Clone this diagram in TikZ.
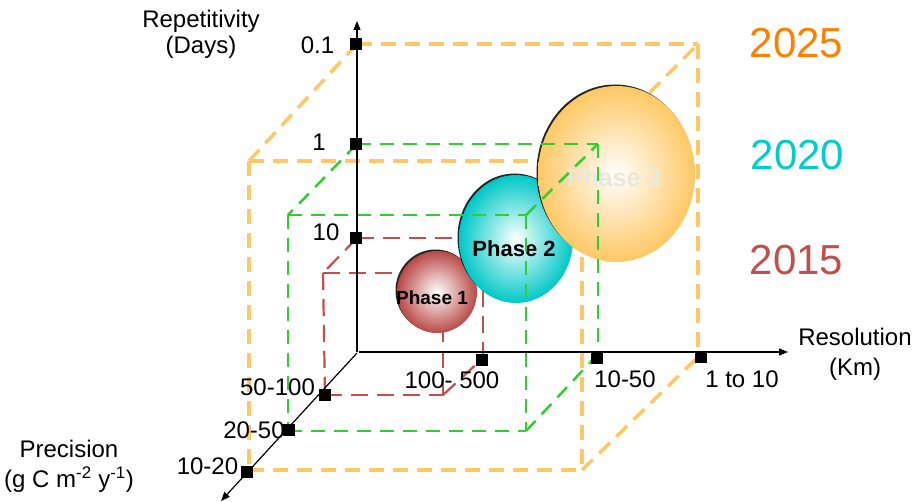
\documentclass[tikz,border=0pt]{standalone}
\usepackage{fontspec}
\setmainfont{Liberation Sans}
\usetikzlibrary{arrows.meta,shapes.geometric,shadows}
\definecolor{yorange}{RGB}{255,128,0}
\definecolor{ycyan}{RGB}{0,204,204}
\definecolor{yred}{RGB}{192,80,77}
\definecolor{lorange}{RGB}{255,200,100}
\definecolor{lgreen}{RGB}{51,204,51}
\definecolor{sphA}{RGB}{185,72,70}
\definecolor{sphB}{RGB}{0,200,200}
\definecolor{sphC}{RGB}{255,200,100}
\definecolor{ptxt}{RGB}{232,232,222}
\begin{document}
\begin{tikzpicture}[x=1pt,y=-1pt,
  axis/.style={line width=1.2pt,-{Triangle[length=9pt,width=7pt]}},
  tickbox/.style={fill=black,draw=none,minimum size=12pt,inner sep=0pt},
  lbl/.style={inner sep=0pt,font=\fontsize{24}{28}\selectfont},
  yearlbl/.style={inner sep=0pt,font=\fontsize{42}{48}\selectfont},
  ocube/.style={lorange,line width=3.5pt,dash pattern=on 15pt off 9pt},
  gcube/.style={lgreen,line width=2.5pt,dash pattern=on 14pt off 9pt},
  rcube/.style={yred,line width=2.2pt,dash pattern=on 17pt off 9pt},
  sphere/.style={ellipse,inner sep=0pt,shading=radial,inner color=white,
    general shadow={fill=black,opacity=0.85,shadow xshift=-1.5pt,shadow yshift=1.5pt}},
]
\fill[white] (0,0) rectangle (915,502);
\useasboundingbox (0,0) rectangle (915,502);

% axis points
\coordinate (O) at (357,352);
\coordinate (Oh) at (359,352);
\coordinate (Od) at (357,353);
\coordinate (Vtop) at (357,21);
\coordinate (Hend) at (788,352);
\coordinate (Dend) at (221,501);

% orange cube (2025)
\coordinate (oBTL) at (357,44);
\coordinate (oBTR) at (698,44);
\coordinate (oBBR) at (698,357);
\coordinate (oFTL) at (249,161);
\coordinate (oFTR) at (582,161);
\coordinate (oFBR) at (582,470);
\coordinate (oFBL) at (249,470);
% green cube (2020)
\coordinate (gBTL) at (357,144);
\coordinate (gBTR) at (598,144);
\coordinate (gBBR) at (598,354);
\coordinate (gFTL) at (288,215);
\coordinate (gFTR) at (526,215);
\coordinate (gFBR) at (526,431);
\coordinate (gFBL) at (288,431);
% red cube (2015)
\coordinate (rBTL) at (357,238);
\coordinate (rBTR) at (483,238);
\coordinate (rBBR) at (483,358);
\coordinate (rFTL) at (323,273);
\coordinate (rFTR) at (443,273);
\coordinate (rFBR) at (443,395);
\coordinate (rFBL) at (325,395);

% orange edges
\draw[ocube] (oBTL) -- (oBTR);
\draw[ocube] (oBTR) -- (oBBR);
\draw[ocube] (oBTL) -- (oFTL);
\draw[ocube] (oFTL) -- (oFTR);
\draw[ocube] (oFTR) -- (oBTR);
\draw[ocube] (oFTL) -- (oFBL);
\draw[ocube] (oFBL) -- (oFBR);
\draw[ocube] (oFTR) -- (oFBR);
\draw[ocube] (oFBR) -- (oBBR);

% red edges
\draw[rcube] (rBTL) -- (rBTR);
\draw[rcube] (rBTR) -- (rBBR);
\draw[rcube] (rBTL) -- (rFTL);
\draw[rcube] (rFTL) -- (rFTR);
\draw[rcube] (rFTR) -- (rBTR);
\draw[rcube] (rFTL) -- (rFBL);
\draw[rcube] (rFBL) -- (rFBR);
\draw[rcube] (rFTR) -- (rFBR);
\draw[rcube] (rFBR) -- (rBBR);

% spheres
\node[sphere,outer color=sphA,minimum width=80pt,minimum height=82pt] (p1) at (437,292) {};
\node[inner sep=0pt,font=\bfseries\fontsize{19}{19}\selectfont] (t1) at (432,298) {Phase 1};
\node[sphere,outer color=sphB,minimum width=114pt,minimum height=128pt] (p2) at (516,239) {};
\node[inner sep=0pt,font=\bfseries\fontsize{22}{22}\selectfont] (t2) at (514,249) {Phase 2};
\node[sphere,outer color=sphC,minimum width=157pt,minimum height=176pt] (p3) at (616.5,174) {};
\node[inner sep=0pt,text=ptxt,font=\bfseries\fontsize{25}{25}\selectfont] (t3) at (614,178) {Phase 3};

% green edges
\draw[gcube] (gBTL) -- (gBTR);
\draw[gcube] (gBTR) -- (gBBR);
\draw[gcube] (gBTL) -- (gFTL);
\draw[gcube] (gFTL) -- (gFTR);
\draw[gcube] (gFTR) -- (gBTR);
\draw[gcube] (gFTL) -- (gFBL);
\draw[gcube] (gFBL) -- (gFBR);
\draw[gcube] (gFTR) -- (gFBR);
\draw[gcube] (gFBR) -- (gBBR);

% axes
\draw[axis] (O) -- (Vtop);
\draw[axis] (Oh) -- (Hend);
\draw[axis] (Od) -- (Dend);

% ticks
\node[tickbox] (v01) at (355.5,44) {};
\node[tickbox] (v1) at (355.5,144.5) {};
\node[tickbox] (v10) at (355.5,238) {};
\node[tickbox] (h1) at (481.5,360) {};
\node[tickbox] (h2) at (597,358) {};
\node[tickbox] (h3) at (701,357) {};
\node[tickbox] (d1) at (325,395) {};
\node[tickbox] (d2) at (289,430) {};
\node[tickbox] (d3) at (246.5,472) {};

% labels
\node[lbl,align=center,font=\fontsize{24}{26}\selectfont] (lrep) at (201,34) {Repetitivity\\(Days)};
\node[lbl,align=center,font=\fontsize{24}{30}\selectfont] (lres) at (855,354) {Resolution\\(Km)};
\node[lbl,align=center,font=\fontsize{24}{30}\selectfont] (lpre) at (69,466) {Precision\\(g C m\textsuperscript{-2} y\textsuperscript{-1})};
\node[lbl] (l01) at (317.5,45.5) {0.1};
\node[lbl] (l1) at (319,142.5) {1};
\node[lbl] (l10) at (326,232) {10};
\node[lbl] (l50) at (277.5,387) {50-100};
\node[lbl] (l20) at (254,430) {20-50};
\node[lbl] (l10b) at (207.5,466.5) {10-20};
\node[lbl] (l100) at (452,380) {100- 500};
\node[lbl] (l1050) at (625,379) {10-50};
\node[lbl] (l110) at (742,379) {1 to 10};

\node[yearlbl,text=yorange] (y25) at (796.5,43) {2025};
\node[yearlbl,text=ycyan] (y20) at (797.5,155) {2020};
\node[yearlbl,text=yred] (y15) at (796.5,260) {2015};
\end{tikzpicture}
\end{document}
